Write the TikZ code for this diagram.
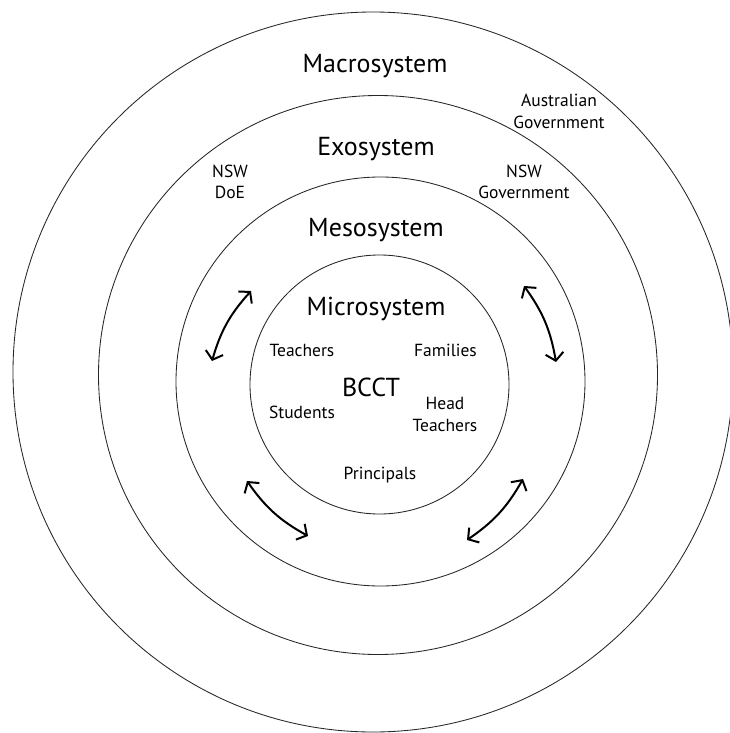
\documentclass[tikz,border=0pt]{standalone}
\usepackage{fontspec}
\setmainfont{PT Sans}
\usetikzlibrary{arrows.meta}
\begin{document}
\begin{tikzpicture}[x=1pt,y=-1pt,
  ring/.style={draw=black!85, line width=0.85pt},
  syslabel/.style={font=\fontsize{26}{30}\selectfont, anchor=base, inner sep=0pt},
  member/.style={font=\fontsize{17.5}{21.5}\selectfont, align=center, inner sep=0pt},
  core/.style={font=\fontsize{26}{30}\selectfont, anchor=base, inner sep=0pt},
  link/.style={{Straight Barb[length=7.5pt,width=18pt]}-{Straight Barb[length=7.5pt,width=18pt]},
               line width=2pt, bend left=13}
]
\useasboundingbox (0,0) rectangle (730,733);
\fill[white] (0,0) rectangle (730,733);

% nested systems
\draw[ring] (373,372)   circle[radius=360pt];
\draw[ring] (378,375)   circle[radius=279.5pt];
\draw[ring] (380.5,381.5) circle[radius=204.5pt];
\draw[ring] (379.5,384.5) circle[radius=129.5pt];

% system names
\node[syslabel] (macro) at (375,73)    {Macrosystem};
\node[syslabel] (exo)   at (376,155)   {Exosystem};
\node[syslabel] (meso)  at (376,236.5) {Mesosystem};
\node[syslabel] (micro) at (376,315.5) {Microsystem};

% actors in each layer
\node[member] (ausgov) at (559,111.5) {Australian\\Government};
\node[member] (nswdoe) at (230,182)   {NSW\\DoE};
\node[member] (nswgov) at (524,182)   {NSW\\Government};

\node[member, anchor=base] (teachers)  at (302,356.5) {Teachers};
\node[member, anchor=base] (families)  at (445.5,356.5) {Families};
\node[member, anchor=base] (students)  at (302,418) {Students};
\node[member] (headteachers) at (445,414.5) {Head\\Teachers};
\node[member, anchor=base] (principals) at (380,479.5) {Principals};
\node[core] (bcct) at (371,396) {BCCT};

% two-way interactions across the mesosystem
\coordinate (a1s) at (212,361);
\coordinate (a1e) at (251,291);
\coordinate (a2s) at (524,286);
\coordinate (a2e) at (556,362);
\coordinate (a3s) at (308,536);
\coordinate (a3e) at (247,481);
\coordinate (a4s) at (523,479);
\coordinate (a4e) at (467,540);

\draw[link] (a1s) to (a1e);
\draw[link] (a2s) to (a2e);
\draw[link] (a3s) to (a3e);
\draw[link] (a4s) to (a4e);
\end{tikzpicture}
\end{document}
